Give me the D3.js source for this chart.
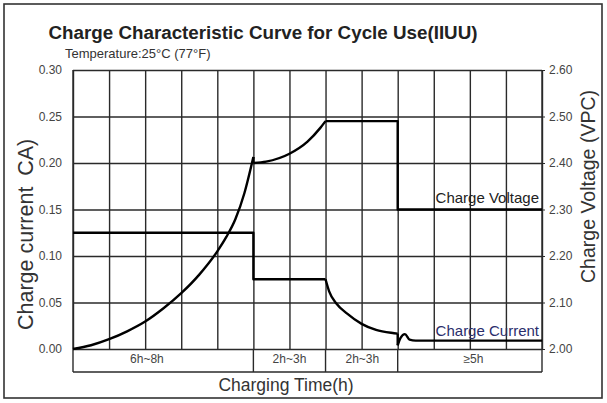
<!DOCTYPE html>
<html><head><meta charset="utf-8">
<script src="https://cdn.jsdelivr.net/npm/d3@7"></script>
<style>
body{margin:0;background:#fff;}
svg{display:block;font-family:"Liberation Sans",Arial,sans-serif;}
</style></head>
<body>
<svg id="c" width="607" height="403"></svg>
<script>
// ---- data ----
const title = "Charge Characteristic Curve for Cycle Use(IIUU)";
const subtitle = "Temperature:25°C (77°F)";
const leftTitle = "Charge current\u2002CA)";
const rightTitle = "Charge Voltage (VPC)";
const bottomTitle = "Charging Time(h)";
const leftTicks = [0.00, 0.05, 0.10, 0.15, 0.20, 0.25, 0.30];
const rightTicks = [2.00, 2.10, 2.20, 2.30, 2.40, 2.50, 2.60];
const columns = d3.range(0, 14); // 13 grid columns of charging time
const stageBounds = [0, 5, 7, 9, 13];
const stageLabels = ["6h~8h", "2h~3h", "2h~3h", "≥5h"];
const stageLabelAt = [2.05, 6, 8.02, 11.1];

// charge current (CA)
const currentConst = [[0,0.125],[5,0.125],[5,0.075],[7,0.075]];
const currentDecay = [[7,0.075],[7.1,0.062],[7.3,0.049],[7.6,0.038],[8,0.027],[8.4,0.0205],[8.9,0.017],[9,0.0165]];
const currentDrop = [[9,0.0165],[9,0.004]];
const currentTail = [[9,0.004],[9.08,0.012],[9.2,0.016],[9.33,0.010],[9.5,0.009],[13,0.009]];
// charge voltage (VPC)
const voltageRise = [[0,2.00],[0.5,2.008],[1,2.021],[1.5,2.038],[2,2.059],[2.5,2.087],[3,2.12],[3.5,2.16],[4,2.21],[4.25,2.241],[4.5,2.279],[4.75,2.335],[5,2.413]];
const voltageStep = [[5,2.413],[5,2.40]];
const voltageAbsorb = [[5,2.40],[5.35,2.403],[6,2.42],[6.5,2.446],[6.85,2.475],[7,2.49]];
const voltageFloat = [[7,2.49],[9,2.49],[9,2.30],[13,2.30]];

// ---- layout ----
const L = 73, R = 542, T = 70, B = 349, S = 372;
const svg = d3.select("#c");
const x = d3.scaleLinear().domain([0, 13]).range([L, R]);
const yL = d3.scaleLinear().domain([0, 0.30]).range([B, T]);
const yR = d3.scaleLinear().domain([2.00, 2.60]).range([B, T]);
const gridColor = "#2a2a2a";

// outer frame
svg.append("rect").attr("x",4).attr("y",4).attr("width",598).attr("height",394)
  .attr("fill","none").attr("stroke","#333").attr("stroke-width",1.6);

// titles
svg.append("text").attr("x",263).attr("y",39).attr("text-anchor","middle")
  .attr("font-size",18.8).attr("font-weight","bold").attr("fill","#222").text(title);
svg.append("text").attr("x",65).attr("y",58).attr("font-size",13).attr("fill","#333").text(subtitle);

// vertical grid
const xg = svg.append("g").attr("transform",`translate(0,${B})`)
  .call(d3.axisBottom(x).tickValues(columns).tickSize(-(B - T)).tickFormat(""));
xg.select(".domain").remove();
xg.selectAll(".tick line").attr("stroke",gridColor).attr("stroke-width",1.4);

// left axis with horizontal grid
const yg = svg.append("g").attr("transform",`translate(${L},0)`)
  .call(d3.axisLeft(yL).tickValues(leftTicks).tickSize(-(R - L)).tickPadding(11).tickFormat(d3.format(".2f")));
yg.select(".domain").remove();
yg.selectAll(".tick line").attr("stroke",gridColor).attr("stroke-width",1.4);
yg.selectAll(".tick text").attr("font-size",12).attr("fill","#444").attr("font-family","Liberation Sans, Arial, sans-serif");

// right axis
const rg = svg.append("g").attr("transform",`translate(${R},0)`)
  .call(d3.axisRight(yR).tickValues(rightTicks).tickSize(3).tickPadding(4).tickFormat(d3.format(".2f")));
rg.select(".domain").remove();
rg.selectAll(".tick line").attr("stroke",gridColor).attr("stroke-width",1);
rg.selectAll(".tick text").attr("font-size",12).attr("fill","#444").attr("font-family","Liberation Sans, Arial, sans-serif");

// axis side lines and stage strip
const lineG = svg.append("g").attr("stroke",gridColor).attr("stroke-width",1.4);
lineG.append("line").attr("x1",L).attr("x2",L).attr("y1",T).attr("y2",S);
lineG.append("line").attr("x1",R).attr("x2",R).attr("y1",T).attr("y2",S);
lineG.append("line").attr("x1",L).attr("x2",R).attr("y1",S).attr("y2",S);
stageBounds.slice(1,-1).forEach(b => {
  lineG.append("line").attr("x1",x(b)).attr("x2",x(b)).attr("y1",B).attr("y2",S);
});
svg.append("g").selectAll("text").data(stageLabels).join("text")
  .attr("x",(d,i)=>x(stageLabelAt[i])).attr("y",363).attr("text-anchor","middle")
  .attr("font-size",12).attr("fill","#444").text(d=>d);

// axis titles
svg.append("text").attr("transform",`translate(33,330) rotate(-90)`).attr("text-anchor","start")
  .attr("font-size",21.5).attr("fill","#333").text(leftTitle);
svg.append("text").attr("transform",`translate(595,${(T+B)/2 - 23}) rotate(-90)`).attr("text-anchor","middle")
  .attr("font-size",19.5).attr("fill","#333").text(rightTitle);
svg.append("text").attr("x",286).attr("y",391).attr("text-anchor","middle")
  .attr("font-size",17.5).attr("fill","#333").text(bottomTitle);

// curves
const lineLin = (ys) => d3.line().x(d=>x(d[0])).y(d=>ys(d[1]));
const lineMono = (ys) => d3.line().x(d=>x(d[0])).y(d=>ys(d[1])).curve(d3.curveMonotoneX);
const curves = svg.append("g").attr("fill","none").attr("stroke","#000").attr("stroke-width",2.4)
  .attr("stroke-linejoin","round");
curves.append("path").attr("d", lineLin(yL)(currentConst));
curves.append("path").attr("d", lineMono(yL)(currentDecay));
curves.append("path").attr("d", lineLin(yL)(currentDrop));
curves.append("path").attr("d", lineMono(yL)(currentTail));
curves.append("path").attr("d", lineMono(yR)(voltageRise));
curves.append("path").attr("d", lineLin(yR)(voltageStep));
curves.append("path").attr("d", lineMono(yR)(voltageAbsorb));
curves.append("path").attr("d", lineLin(yR)(voltageFloat));

// series labels
svg.append("text").attr("x",539).attr("y",203).attr("text-anchor","end").attr("font-size",15)
  .attr("fill","#222").text("Charge Voltage");
svg.append("text").attr("x",539).attr("y",336).attr("text-anchor","end").attr("font-size",15)
  .attr("fill","#2a2d6b").text("Charge Current");
</script>
</body></html>
